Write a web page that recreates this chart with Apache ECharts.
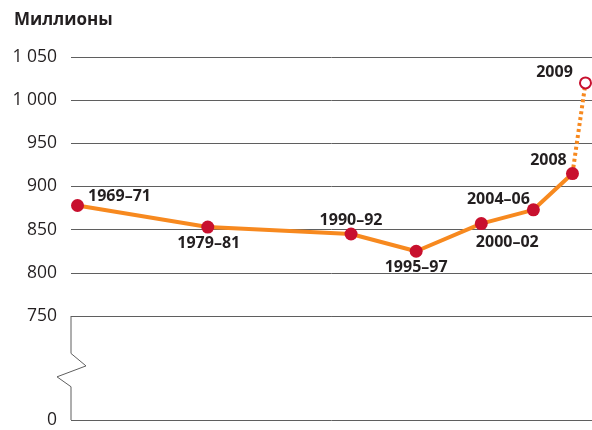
<!DOCTYPE html>
<html><head><meta charset="utf-8">
<script src="https://cdn.jsdelivr.net/npm/echarts@6/dist/echarts.min.js"></script>
<style>html,body{margin:0;padding:0;background:#fff}#c{width:592px;height:430px}</style>
</head><body><div id="c"></div>
<script>
// Data
const periodYears = [1970, 1980, 1991, 1996, 2001, 2005, 2008, 2009];
const periodLabels = ['1969–71', '1979–81', '1990–92', '1995–97', '2000–02', '2004–06', '2008', '2009'];
const hungryMillions = [878, 853, 845, 825, 857, 873, 915, 1020];
const yTicksTop = [750, 800, 850, 900, 950, 1000, 1050];
const yTickBottom = [0];
const unitTitle = 'Миллионы';

// Styles
const labelOffsets = [[42, -9], [1, 16], [0, -14], [0, 16], [26, 19], [-35, -10], [-24, -13], [-31, -10]];
const FONT = '"Open Sans", "Noto Sans", sans-serif';
const ORANGE = '#f7891f';
const RED = '#c8102e';
const INK = '#231f20';
const GRID = '#5f5f5f';

const chart = echarts.init(document.getElementById('c'), null, {renderer: 'canvas'});

const fmt = v => {
  const s = String(v);
  return s.length > 3 ? s.slice(0, s.length - 3) + ' ' + s.slice(-3) : s;
};

const pts = periodYears.map((y, i) => [y, hungryMillions[i]]);
const n = pts.length;

const option = {
  animation: false,
  textStyle: {fontFamily: FONT},
  title: {
    text: unitTitle, left: 9, top: 7,
    textStyle: {fontFamily: FONT, fontSize: 17, fontWeight: 'bold', color: INK}
  },
  grid: [
    {left: 71, right: 0, top: 57, height: 259},
    {left: 71, right: 0, top: 316, height: 104}
  ],
  xAxis: [
    {gridIndex: 0, type: 'value', min: 1969.5, max: 2009.5, show: false},
    {gridIndex: 1, type: 'value', min: 1969.5, max: 2009.5, show: false}
  ],
  yAxis: [
    {
      gridIndex: 0, type: 'value', min: yTicksTop[0], max: yTicksTop[yTicksTop.length - 1], interval: 50,
      axisLine: {show: false}, axisTick: {show: false},
      axisLabel: {color: INK, fontSize: 17.5, fontFamily: FONT, margin: 14, formatter: fmt},
      splitLine: {show: true, lineStyle: {color: GRID, width: 1}}
    },
    {
      gridIndex: 1, type: 'value', min: yTickBottom[0], max: 750, interval: 750,
      axisLine: {show: false}, axisTick: {show: false},
      axisLabel: {color: INK, fontSize: 17.5, fontFamily: FONT, margin: 14,
        formatter: v => (yTickBottom.includes(v) ? fmt(v) : '')},
      splitLine: {show: true, lineStyle: {color: GRID, width: 1}}
    }
  ],
  series: [
    {
      type: 'line', xAxisIndex: 0, yAxisIndex: 0,
      data: pts.slice(0, n - 1), symbol: 'none', z: 2,
      lineStyle: {color: ORANGE, width: 4}
    },
    {
      type: 'line', xAxisIndex: 0, yAxisIndex: 0,
      data: pts.slice(n - 2), symbol: 'none', z: 2,
      lineStyle: {color: ORANGE, width: 4, type: [3, 3]}
    },
    {
      type: 'scatter', xAxisIndex: 0, yAxisIndex: 0, z: 3,
      symbolSize: 12,
      itemStyle: {opacity: 1},
      data: pts.map((p, i) => ({
        value: p,
        symbol: 'circle',
        symbolSize: i === n - 1 ? 11 : 13,
        itemStyle: i === n - 1
          ? {color: '#fff', borderColor: RED, borderWidth: 2, opacity: 1}
          : {color: RED, opacity: 1},
        label: {
          show: true, position: 'inside', offset: labelOffsets[i],
          formatter: periodLabels[i], opacity: 1,
          color: INK, fontSize: 16, fontWeight: 'bold', fontFamily: FONT,
          textBorderWidth: 0
        }
      }))
    }
  ]
};
chart.setOption(option);

// axis line with break zig-zag on the lower section
function drawBreak() {
  const top = chart.convertToPixel({gridIndex: 1}, [1969.5, 750]);
  const bot = chart.convertToPixel({gridIndex: 1}, [1969.5, 0]);
  const x = top[0], y0 = top[1], y1 = bot[1];
  const h = y1 - y0;
  const p1 = y0 + h * 0.36, p2 = y0 + h * 0.48, p3 = y0 + h * 0.585, p4 = y0 + h * 0.68;
  chart.setOption({
    graphic: [{
      type: 'polyline', silent: true,
      shape: {points: [[x, y0], [x, p1], [x + 15, p2], [x - 14, p3], [x, p4], [x, y1]]},
      style: {stroke: GRID, lineWidth: 1, fill: null}
    }]
  });
}
drawBreak();
</script>
</body></html>
